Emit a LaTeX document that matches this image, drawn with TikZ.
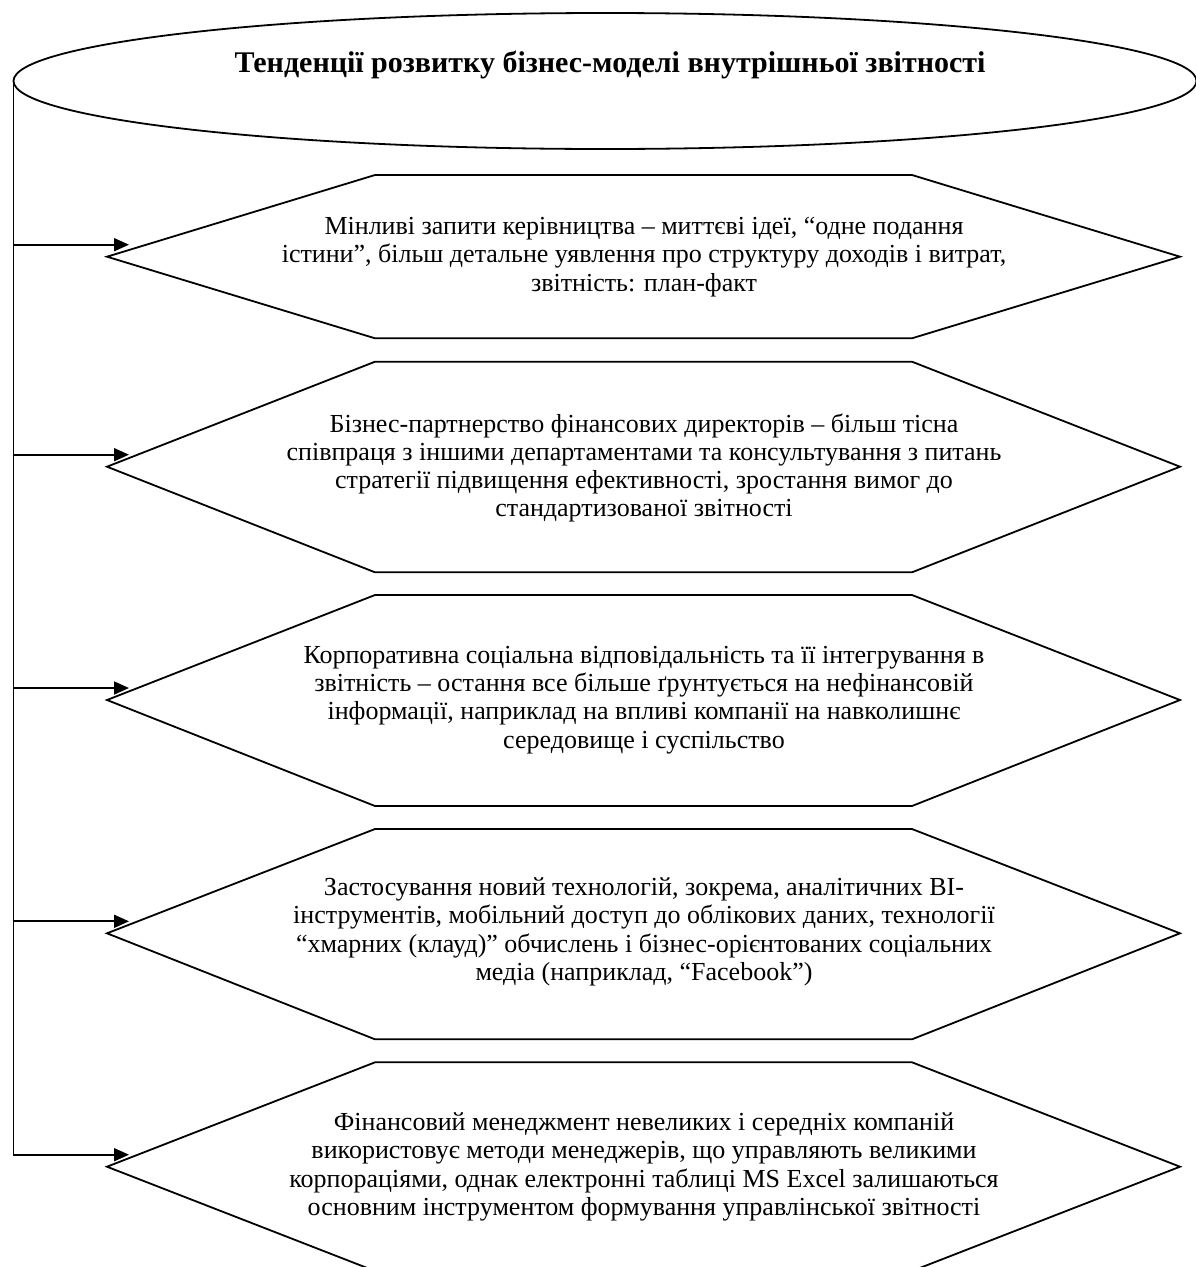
\documentclass[tikz,border=0pt]{standalone}
\usepackage{fontspec}
\setmainfont{Liberation Serif}
\usetikzlibrary{shapes.geometric,arrows.meta}

\begin{document}
\begin{tikzpicture}[x=1pt,y=-1pt,
  line width=1.8pt,
  body/.style={font=\fontsize{26}{28.3}\selectfont, align=center, inner sep=0pt},
  headtitle/.style={font=\bfseries\fontsize{30}{30}\selectfont, inner sep=0pt, anchor=base},
  flow/.style={-{Triangle[length=15pt,width=13pt]}},
  hexa/.style={line width=1.8pt}
]
\useasboundingbox (0,0) rectangle (1196,1267);

% heading ellipse and its title
\node[draw, ellipse, minimum width=1183pt, minimum height=136pt,
      inner sep=0pt, outer sep=0pt] (head) at (605,81) {};
\node[headtitle] (title) at (610,72) {Тенденції розвитку бізнес-моделі внутрішньої звітності};

% hexagonal blocks: index / top edge / middle / bottom edge
\foreach \n/\t/\m/\b in {1/175/256.7/338.3, 2/361.7/466.7/572.3, 3/595/700/806,
                         4/829/933.3/1039.3, 5/1062.3/1166.7/1271}{
  \draw[hexa] (107,\m) -- (375,\t) -- (912,\t) -- (1180,\m) -- (912,\b) -- (375,\b) -- cycle;
  \coordinate (s\n) at (13,\m-12);
  \coordinate (t\n) at (129,\m-12);
}

% texts of the blocks
\node[body] (b1) at (644,257) {Мінливі запити керівництва – миттєві ідеї, “одне подання\\
істини”, більш детальне уявлення про структуру доходів і витрат,\\
звітність: план-факт};
\node[body] (b2) at (644,468) {Бізнес-партнерство фінансових директорів – більш тісна\\
співпраця з іншими департаментами та консультування з питань\\
стратегії підвищення ефективності, зростання вимог до\\
стандартизованої звітності};
\node[body] (b3) at (644,700) {Корпоративна соціальна відповідальність та її інтегрування в\\
звітність – остання все більше ґрунтується на нефінансовій\\
інформації, наприклад на впливі компанії на навколишнє\\
середовище і суспільство};
\node[body] (b4) at (644,932) {Застосування новий технологій, зокрема, аналітичних BI-\\
інструментів, мобільний доступ до облікових даних, технології\\
“хмарних (клауд)” обчислень і бізнес-орієнтованих соціальних\\
медіа (наприклад, “Facebook”)};
\node[body] (b5) at (644,1167) {Фінансовий менеджмент невеликих і середніх компаній\\
використовує методи менеджерів, що управляють великими\\
корпораціями, однак електронні таблиці MS Excel залишаються\\
основним інструментом формування управлінської звітності};

% spine from the heading with arrows to every block
\draw[flow] (head.west) |- (t5);
\foreach \n in {1,2,3,4}{
  \draw[flow] (s\n) -- (t\n);
}
\end{tikzpicture}
\end{document}
